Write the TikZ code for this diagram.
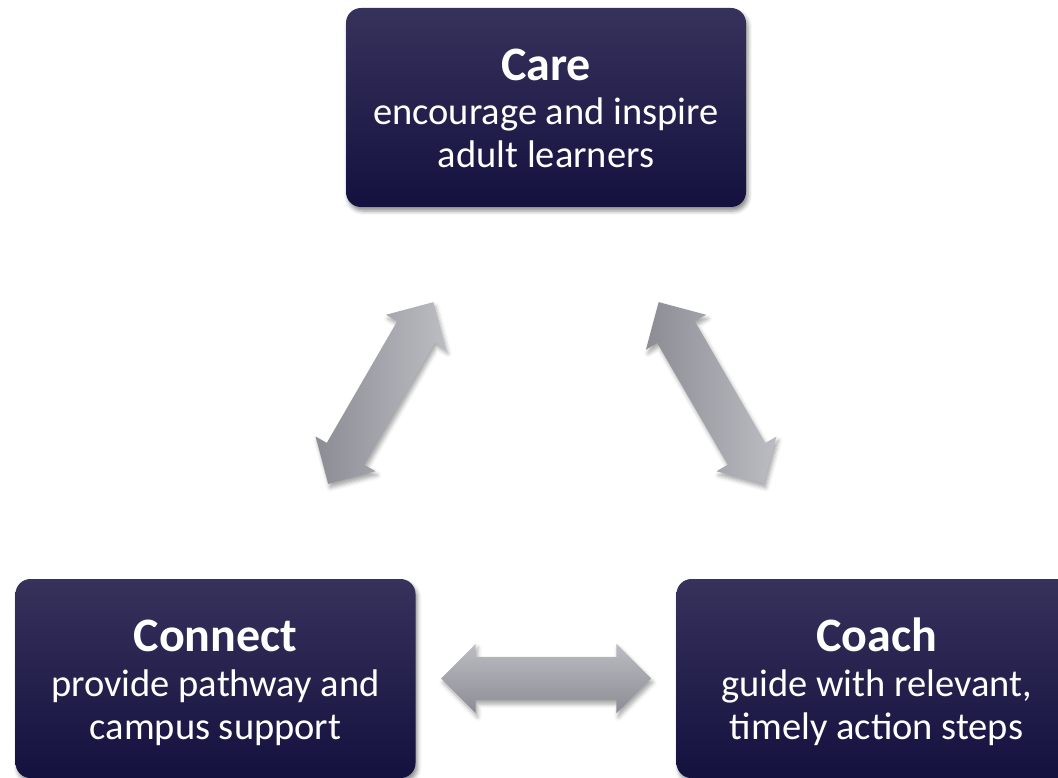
\documentclass[tikz,border=0pt]{standalone}
\usepackage{fontspec}
\setmainfont{Carlito}
\usetikzlibrary{shapes.arrows,shadows,shadows.blur,calc}
\definecolor{boxtop}{RGB}{54,50,92}
\definecolor{boxbot}{RGB}{21,17,63}
\definecolor{arrlight}{RGB}{188,188,195}
\definecolor{arrdark}{RGB}{140,140,148}
\tikzset{
  card/.style={rectangle, rounded corners=15pt, minimum width=400pt, minimum height=199pt,
    inner sep=0pt, top color=boxtop, bottom color=boxbot, draw=none,
    blur shadow={shadow xshift=2pt, shadow yshift=-4pt, shadow blur radius=4pt, shadow opacity=45}},
  ttl/.style={anchor=base, text=white, font=\fontsize{48}{50}\selectfont\bfseries, inner sep=0pt},
  sub/.style={anchor=base, text=white, font=\fontsize{38.5}{43}\selectfont, inner sep=0pt},
  dbl/.style={double arrow, double arrow head extend=13pt, minimum height=210pt,
    inner xsep=0pt, inner ysep=21.5pt, draw=none,
    blur shadow={shadow xshift=2pt, shadow yshift=-4pt, shadow blur radius=4pt, shadow opacity=35}},
}
\begin{document}
\begin{tikzpicture}[x=1pt,y=-1pt]
\useasboundingbox (0,0) rectangle (1058,778);
\clip (0,0) rectangle (1058,778);

\node[card] (care) at (546,107.5) {};
\node[card] (connect) at (215.5,678.5) {};
\node[card] (coach) at (876.5,678.5) {};

\node[ttl] (care-t) at ($(care.north)+(0,73)$) {Care};
\node[sub] (care-l1) at ($(care.north)+(0,117)$) {encourage and inspire};
\node[sub] (care-l2) at ($(care.north)+(0,160)$) {adult learners};

\node[ttl] (connect-t) at ($(connect.north)+(0,73)$) {Connect};
\node[sub] (connect-l1) at ($(connect.north)+(0,118)$) {provide pathway and};
\node[sub] (connect-l2) at ($(connect.north)+(0,161)$) {campus support};

\node[ttl] (coach-t) at ($(coach.north)+(0,73)$) {Coach};
\node[sub] (coach-l1) at ($(coach.north)+(0,118)$) {guide with relevant,};
\node[sub] (coach-l2) at ($(coach.north)+(0,161)$) {timely action steps};

\path let \p1=($(care.center)-(connect.center)$), \n1={atan2(\y1,\x1)} in
  node[dbl, left color=arrdark, right color=arrlight, rotate=\n1] (a1) at ($(connect.center)!0.5!(care.center)$) {};
\path let \p1=($(care.center)-(coach.center)$), \n1={atan2(\y1,\x1)} in
  node[dbl, left color=arrdark, right color=arrlight, rotate=\n1] (a2) at ($(coach.center)!0.5!(care.center)$) {};
\node[dbl, top color=arrlight, bottom color=arrdark] (a3) at ($(connect.center)!0.5!(coach.center)$) {};
\end{tikzpicture}
\end{document}
